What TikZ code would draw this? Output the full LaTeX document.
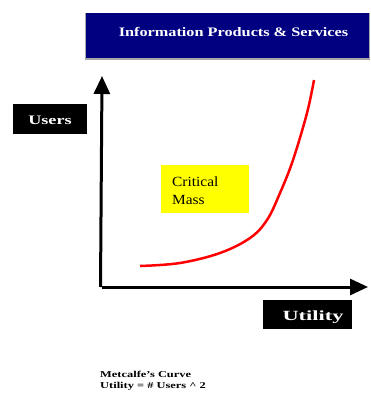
\documentclass[tikz,border=0pt]{standalone}
\usepackage{fontspec}
\usepackage{graphicx}
\setmainfont{Liberation Serif}
\usetikzlibrary{arrows.meta}
\definecolor{navy}{RGB}{0,0,128}
\definecolor{cmyellow}{RGB}{255,255,0}
\begin{document}
\begin{tikzpicture}[x=1pt,y=-1pt,
  blacklabel/.style={fill=black,inner sep=0pt,anchor=north west},
  whitetext/.style={text=white,inner sep=0pt},
  axis/.style={line width=3pt,-{Triangle[length=18pt,width=16pt]}}]
\useasboundingbox (0,0) rectangle (370,398);
\fill[white] (0,0) rectangle (370,398);
% title
\fill[gray!70] (85,13) rectangle (370,60);
\node[fill=navy,minimum width=283pt,minimum height=45pt,inner sep=0pt,anchor=north west] (title) at (86,13) {};
\node[whitetext,font=\bfseries\fontsize{13}{14}\selectfont] (titletext) at (233.5,32) {\scalebox{1.25}[1]{Information Products \& Services}};
% axes
\coordinate (origin) at (102,287);
\coordinate (ytip) at (102,76);
\coordinate (xtip) at (368,287);
\draw[axis] ([xshift=-1.5pt]origin) -- (ytip);
\draw[axis] (origin) -- (xtip);
% labels
\node[blacklabel,minimum width=74pt,minimum height=30pt] (users) at (13,104) {};
\node[whitetext,font=\bfseries\fontsize{13}{14}\selectfont] (userstext) at (50,120) {\scalebox{1.4}[1]{Users}};
\node[blacklabel,minimum width=89pt,minimum height=29pt] (utility) at (263,300) {};
\node[whitetext,font=\bfseries\fontsize{14}{15}\selectfont] (utilitytext) at (313,317) {\scalebox{1.6}[1]{Utility}};
% critical mass
\node[fill=cmyellow,minimum width=88pt,minimum height=48pt,inner sep=0pt,anchor=north west] (cm) at (161,165) {};
\node[align=left,anchor=north west,inner sep=0pt,font=\fontsize{14}{18}\selectfont] (cmtext) at (172,177) {\scalebox{1.1}[1]{Critical}\\\scalebox{1.1}[1]{Mass}};
% curve
\draw[red,line width=2.5pt] plot[smooth,tension=0.6] coordinates {(140,266) (180,263) (220,253) (250,238) (267,220) (280,193) (293,160) (307,113) (314,80)};
% caption
\node[align=left,anchor=north west,inner sep=0pt,font=\bfseries\fontsize{9}{11}\selectfont] (caption) at (100,371) {\scalebox{1.38}[1]{Metcalfe's Curve}\\\scalebox{1.38}[1]{Utility = \# Users \^{} 2}};
\end{tikzpicture}
\end{document}
